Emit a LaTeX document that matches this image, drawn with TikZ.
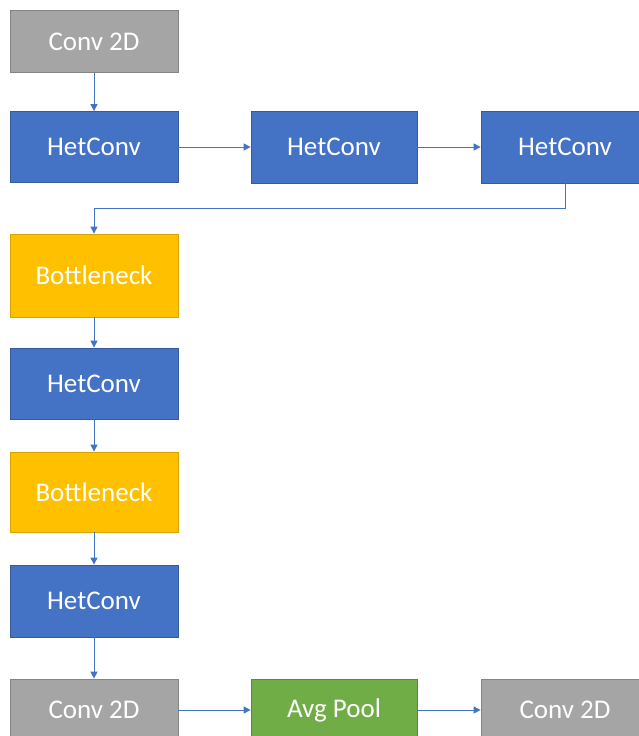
\documentclass[tikz,border=0pt]{standalone}
\usepackage{fontspec}
\setmainfont{Carlito}
\usetikzlibrary{arrows.meta}
\definecolor{hetblue}{HTML}{4472C4}
\definecolor{convgray}{HTML}{A5A5A5}
\definecolor{neckgold}{HTML}{FFC000}
\definecolor{poolgreen}{HTML}{70AD47}
\tikzset{
  layer/.style={rectangle, minimum width=168pt, text=white, line width=0.8pt,
    font=\fontsize{27}{30}\selectfont, inner sep=0pt},
  het/.style={layer, fill=hetblue, draw=hetblue!80!black, minimum height=72pt},
  conv/.style={layer, fill=convgray, draw=convgray!80!black, minimum height=62pt},
  neck/.style={layer, fill=neckgold, draw=neckgold!85!black, minimum height=82pt},
  pool/.style={layer, fill=poolgreen, draw=poolgreen!80!black, minimum height=62pt},
  link/.style={->, draw=hetblue, line width=1pt}
}

\begin{document}
\begin{tikzpicture}[x=1pt,y=-1pt,>={Triangle[length=7pt,width=7pt]}]
\useasboundingbox (0,0) rectangle (639,736);
\clip (0,0) rectangle (639,736);
%first row
\node[conv] (conva) at (94,41.5) {Conv 2D};
\node[het, minimum height=71pt] (heta) at (94,147) {HetConv};
\node[het, minimum width=166pt] (hetb) at (334,147) {HetConv};
\node[het] (hetc) at (565,147) {HetConv};
%column
\node[neck, minimum height=83pt] (necka) at (94,275.5) {Bottleneck};
\node[het, minimum height=71pt] (hetd) at (94,383.5) {HetConv};
\node[neck, minimum height=80pt] (neckb) at (94,492) {Bottleneck};
\node[het] (hete) at (94,601) {HetConv};
%last row
\node[conv] (convb) at (94,710) {Conv 2D};
\node[pool, minimum width=166pt] (avgpool) at (334,710) {Avg Pool};
\node[conv] (convc) at (565,710) {Conv 2D};
\coordinate (turn) at (94,208);

\draw[link] (conva) -- (heta);
\draw[link] (heta) -- (hetb);
\draw[link] (hetb) -- (hetc);
\draw[link] (hetc.south) |- (turn) -- (necka.north);
\draw[link] (necka) -- (hetd);
\draw[link] (hetd) -- (neckb);
\draw[link] (neckb) -- (hete);
\draw[link] (hete) -- (convb);
\draw[link] (convb) -- (avgpool);
\draw[link] (avgpool) -- (convc);
\end{tikzpicture}
\end{document}
